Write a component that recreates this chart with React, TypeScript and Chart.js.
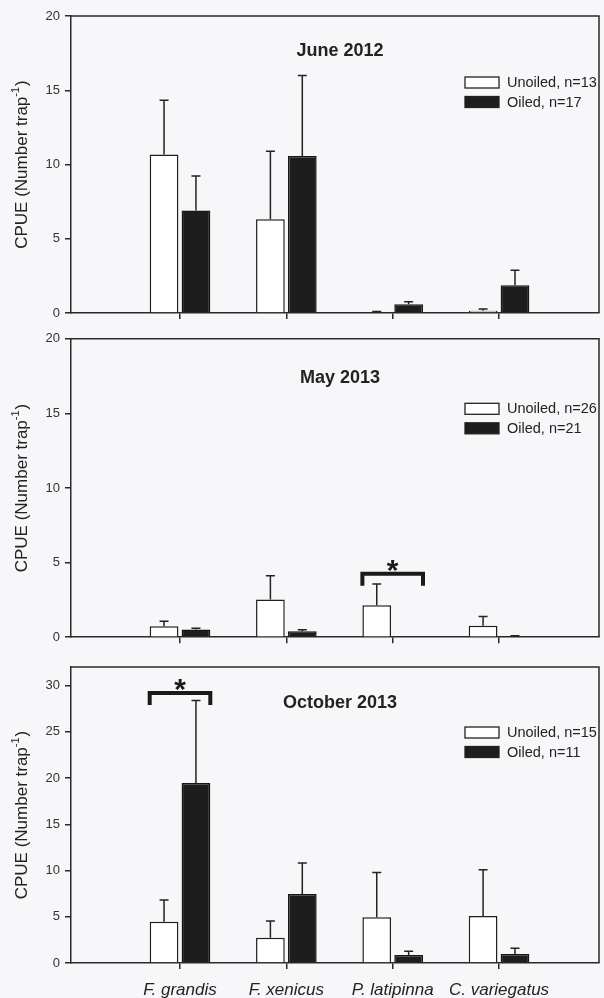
import React, { useEffect, useRef } from 'react';
import { Chart, registerables } from 'chart.js';

Chart.register(...registerables);

const FONT = "'Liberation Sans', Arial, Helvetica, sans-serif";

// ---------- data ----------
const categories = ['F. grandis', 'F. xenicus', 'P. latipinna', 'C. variegatus'];

const june2012Unoiled = [10.67, 6.31, 0.0, 0.15];
const june2012UnoiledErr = [14.33, 10.89, 0.1, 0.27];
const june2012Oiled = [6.9, 10.57, 0.59, 1.87];
const june2012OiledErr = [9.23, 15.99, 0.76, 2.88];
const june2012Legend = ['Unoiled, n=13', 'Oiled, n=17'];

const may2013Unoiled = [0.74, 2.52, 2.14, 0.77];
const may2013UnoiledErr = [1.07, 4.12, 3.57, 1.39];
const may2013Oiled = [0.52, 0.4, 0.0, 0.06];
const may2013OiledErr = [0.6, 0.5, 0.0, 0.1];
const may2013Legend = ['Unoiled, n=26', 'Oiled, n=21'];

const oct2013Unoiled = [4.47, 2.74, 4.95, 5.09];
const oct2013UnoiledErr = [6.82, 4.55, 9.78, 10.07];
const oct2013Oiled = [19.46, 7.47, 0.87, 0.97];
const oct2013OiledErr = [28.38, 10.8, 1.28, 1.59];
const oct2013Legend = ['Unoiled, n=15', 'Oiled, n=11'];

const yTicks20 = [0, 5, 10, 15, 20];
const yTicks30 = [0, 5, 10, 15, 20, 25, 30];

const may2013Sig = { category: 'P. latipinna', y: 4.25 };
const oct2013Sig = { category: 'F. grandis', y: 29.2 };

const yTitleMain = 'CPUE (Number trap';
const yTitleSup = '-1';
const yTitleClose = ')';

// ---------- panel setup ----------
type PanelCfg = {
  title: string;
  unoiled: number[];
  unoiledErr: number[];
  oiled: number[];
  oiledErr: number[];
  legend: string[];
  yMax: number;
  yTicks: number[];
  sig: { category: string; y: number } | null;
  top: number;
  height: number;
  padTop: number;
  xHeight: number;
  titleDy: number;
  legendDy: number;
  showLabels: boolean;
};

const panels: PanelCfg[] = [
  {
    title: 'June 2012', unoiled: june2012Unoiled, unoiledErr: june2012UnoiledErr,
    oiled: june2012Oiled, oiledErr: june2012OiledErr, legend: june2012Legend,
    yMax: 20, yTicks: yTicks20, sig: null,
    top: 0, height: 326, padTop: 16, xHeight: 13, titleDy: 35.5, legendDy: 61, showLabels: false,
  },
  {
    title: 'May 2013', unoiled: may2013Unoiled, unoiledErr: may2013UnoiledErr,
    oiled: may2013Oiled, oiledErr: may2013OiledErr, legend: may2013Legend,
    yMax: 20, yTicks: yTicks20, sig: may2013Sig,
    top: 326, height: 324, padTop: 12.5, xHeight: 12.5, titleDy: 39.5, legendDy: 64.5, showLabels: false,
  },
  {
    title: 'October 2013', unoiled: oct2013Unoiled, unoiledErr: oct2013UnoiledErr,
    oiled: oct2013Oiled, oiledErr: oct2013OiledErr, legend: oct2013Legend,
    yMax: 32, yTicks: yTicks30, sig: oct2013Sig,
    top: 650, height: 348, padTop: 17, xHeight: 35, titleDy: 36, legendDy: 60, showLabels: true,
  },
];

const AXIS = '#2a2a2a';
const TEXT = '#222';
const OILED = '#1d1d1d';
const UNOILED = '#ffffff';

function makeDecor(cfg: PanelCfg) {
  return {
    id: 'panelDecor',
    afterDatasetsDraw(chart: any) {
      const { ctx, scales } = chart;
      const ys = scales.y;
      ctx.save();
      ctx.strokeStyle = '#222';
      ctx.lineWidth = 1.5;
      chart.data.datasets.forEach((ds: any, di: number) => {
        const meta = chart.getDatasetMeta(di);
        meta.data.forEach((el: any, i: number) => {
          const top = ds.errTop[i];
          const v = ds.data[i].y;
          if (top == null || top <= v) return;
          const yp = ys.getPixelForValue(top);
          const yb = ys.getPixelForValue(v);
          ctx.beginPath();
          ctx.moveTo(el.x, yb);
          ctx.lineTo(el.x, yp);
          ctx.moveTo(el.x - 4.5, yp);
          ctx.lineTo(el.x + 4.5, yp);
          ctx.stroke();
        });
      });
      ctx.restore();
    },
    afterDraw(chart: any) {
      const { ctx, chartArea: ca, scales } = chart;
      const ys = scales.y;
      ctx.save();
      // frame top & right
      ctx.strokeStyle = AXIS;
      ctx.lineWidth = 1.5;
      ctx.beginPath();
      ctx.moveTo(ca.left, ca.top);
      ctx.lineTo(ca.right, ca.top);
      ctx.lineTo(ca.right, ca.bottom);
      ctx.stroke();

      // title
      ctx.fillStyle = TEXT;
      ctx.font = `bold 18px ${FONT}`;
      ctx.textAlign = 'center';
      ctx.textBaseline = 'middle';
      ctx.fillText(cfg.title, (ca.left + ca.right) / 2 + 5, ca.top + cfg.titleDy);

      // legend
      const bx = ca.right - 134;
      const by = ca.top + cfg.legendDy;
      const fills = [UNOILED, OILED];
      ctx.font = `14.5px ${FONT}`;
      ctx.textAlign = 'left';
      cfg.legend.forEach((lab, i) => {
        const yy = by + i * 19.5;
        ctx.fillStyle = fills[i];
        ctx.fillRect(bx, yy, 34, 11);
        ctx.strokeStyle = '#222';
        ctx.lineWidth = 1.3;
        ctx.strokeRect(bx, yy, 34, 11);
        ctx.fillStyle = TEXT;
        ctx.fillText(lab, bx + 42, yy + 6);
      });

      // significance bracket
      if (cfg.sig) {
        const idx = categories.indexOf(cfg.sig.category);
        const e0: any = chart.getDatasetMeta(0).data[idx];
        const e1: any = chart.getDatasetMeta(1).data[idx];
        const left = e0.x - e0.width / 2;
        const right = e1.x + e1.width / 2;
        const yb = ys.getPixelForValue(cfg.sig.y);
        ctx.strokeStyle = '#1a1a1a';
        ctx.lineWidth = 4;
        ctx.lineJoin = 'miter';
        ctx.lineCap = 'butt';
        ctx.beginPath();
        ctx.moveTo(left, yb + 12);
        ctx.lineTo(left, yb);
        ctx.lineTo(right, yb);
        ctx.lineTo(right, yb + 12);
        ctx.stroke();
        ctx.fillStyle = '#1a1a1a';
        ctx.font = `bold 30px ${FONT}`;
        ctx.textAlign = 'center';
        ctx.textBaseline = 'alphabetic';
        ctx.fillText('*', (left + right) / 2, yb + 6);
      }

      // y-axis title with superscript
      ctx.translate(27, (ca.top + ca.bottom) / 2);
      ctx.rotate(-Math.PI / 2);
      ctx.fillStyle = TEXT;
      ctx.textAlign = 'left';
      ctx.textBaseline = 'alphabetic';
      ctx.font = `17px ${FONT}`;
      const wMain = ctx.measureText(yTitleMain).width;
      const wClose = ctx.measureText(yTitleClose).width;
      ctx.font = `11px ${FONT}`;
      const wSup = ctx.measureText(yTitleSup).width;
      let x = -(wMain + wSup + wClose + 1) / 2;
      ctx.font = `17px ${FONT}`;
      ctx.fillText(yTitleMain, x, 0);
      x += wMain;
      ctx.font = `11px ${FONT}`;
      ctx.fillText(yTitleSup, x, -8);
      x += wSup + 1;
      ctx.font = `17px ${FONT}`;
      ctx.fillText(yTitleClose, x, 0);
      ctx.restore();
    },
  };
}

function Panel({ cfg }: { cfg: PanelCfg }) {
  const ref = useRef<HTMLCanvasElement | null>(null);
  useEffect(() => {
    if (!ref.current) return;
    const chart = new Chart(ref.current, {
      type: 'bar',
      data: {
        datasets: [
          {
            label: 'Unoiled',
            data: cfg.unoiled.map((v, i) => ({ x: i + 1, y: v })),
            errTop: cfg.unoiledErr,
            backgroundColor: UNOILED,
            borderColor: '#1e1e1e',
            borderWidth: 1.5,
          } as any,
          {
            label: 'Oiled',
            data: cfg.oiled.map((v, i) => ({ x: i + 1, y: v })),
            errTop: cfg.oiledErr,
            backgroundColor: OILED,
            borderColor: '#151515',
            borderWidth: 1.5,
          } as any,
        ],
      },
      options: {
        animation: false,
        responsive: false,
        maintainAspectRatio: false,
        events: [],
        layout: { padding: { top: cfg.padTop, right: 5, left: 0, bottom: 0 } },
        datasets: { bar: { categoryPercentage: 0.6, barPercentage: 0.9 } },
        plugins: { legend: { display: false }, tooltip: { enabled: false }, title: { display: false } },
        scales: {
          x: {
            type: 'linear',
            min: -0.025,
            max: 4.94,
            offset: false,
            afterBuildTicks: (s: any) => {
              s.ticks = categories.map((_, i) => ({ value: i + 1 }));
            },
            afterFit: (s: any) => {
              s.height = cfg.xHeight;
            },
            ticks: {
              display: cfg.showLabels,
              autoSkip: false,
              maxRotation: 0,
              padding: 11,
              color: TEXT,
              font: { family: FONT, size: 17, style: 'italic' },
              callback: (_v: any, i: number) => categories[i],
            },
            grid: { offset: false, drawOnChartArea: false, drawTicks: true, tickLength: 6, color: AXIS, lineWidth: 1.5 },
            border: { display: true, color: AXIS, width: 1.5 },
          },
          y: {
            min: 0,
            max: cfg.yMax,
            afterBuildTicks: (s: any) => {
              s.ticks = cfg.yTicks.map((v) => ({ value: v }));
            },
            afterFit: (s: any) => {
              s.width = 71;
            },
            ticks: { padding: 5, color: '#333', font: { family: FONT, size: 13 } },
            grid: { drawOnChartArea: false, drawTicks: true, tickLength: 6, color: AXIS, lineWidth: 1.5 },
            border: { display: true, color: AXIS, width: 1.5 },
          },
        },
      } as any,
      plugins: [makeDecor(cfg)],
    });
    return () => chart.destroy();
  }, [cfg]);
  return (
    <canvas
      ref={ref}
      width={604}
      height={cfg.height}
      style={{ position: 'absolute', left: 0, top: cfg.top, width: 604, height: cfg.height, display: 'block' }}
    />
  );
}

export default function App() {
  return (
    <div
      style={{
        position: 'absolute',
        left: 0,
        top: 0,
        width: 604,
        height: 998,
        overflow: 'hidden',
        background: '#f7f7fa',
      }}
    >
      {panels.map((p) => (
        <Panel key={p.title} cfg={p} />
      ))}
    </div>
  );
}
